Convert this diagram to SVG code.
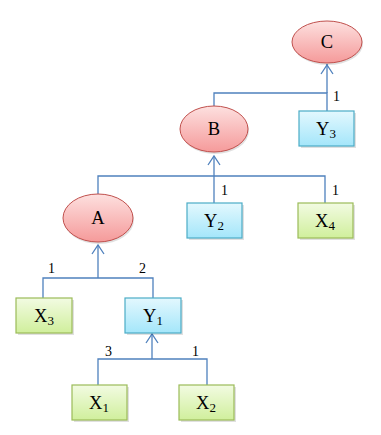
<svg xmlns="http://www.w3.org/2000/svg" width="381" height="435" viewBox="0 0 381 435">
<style>
.e{fill:url(#gr);stroke:#c0504d;stroke-width:1}
.b{fill:url(#gb);stroke:#4bacc6;stroke-width:1.2}
.g{fill:url(#gg);stroke:#9bbb59;stroke-width:1.2}
.sh{fill:#000;opacity:0.12}
text{font-family:"Liberation Serif","Times New Roman",serif;font-size:18.5px;fill:#000}
.m{text-anchor:middle}
.l{font-size:14px}
.s{font-size:13px}
.c{fill:none;stroke:#4f81bd;stroke-width:1.3}
</style>
<defs>
<linearGradient id="gr" x1="0" y1="0" x2="0" y2="1"><stop offset="0" stop-color="#fde0df"/><stop offset="1" stop-color="#f59a9a"/></linearGradient>
<linearGradient id="gb" x1="0" y1="0" x2="0" y2="1"><stop offset="0" stop-color="#e3f8fe"/><stop offset="1" stop-color="#a4e6fa"/></linearGradient>
<linearGradient id="gg" x1="0" y1="0" x2="0" y2="1"><stop offset="0" stop-color="#f2fbe2"/><stop offset="1" stop-color="#d0ef9c"/></linearGradient>
</defs>
<g id="connectors">
<polyline class="c" points="327,111 327,93 214,93 214,106"/>
<polyline class="c" points="327,93 327,64"/>
<polyline class="c" points="321,74 327,65 333,74"/>
<polyline class="c" points="98,194 98,176 325,176 325,203"/>
<polyline class="c" points="214,203 214,156"/>
<polyline class="c" points="208,165 214,156 220,165"/>
<polyline class="c" points="43,298 43,278 153,278 153,298"/>
<polyline class="c" points="98,278 98,245"/>
<polyline class="c" points="92,254 98,245 104,254"/>
<polyline class="c" points="98,385 98,359 207,359 207,385"/>
<polyline class="c" points="152,359 152,334"/>
<polyline class="c" points="146,343 152,334 158,343"/>
<text class="l" x="333" y="101">1</text>
<text class="l" x="221" y="195">1</text>
<text class="l" x="332" y="195">1</text>
<text class="l" x="48" y="273">1</text>
<text class="l" x="139" y="273">2</text>
<text class="l" x="105" y="356">3</text>
<text class="l" x="192" y="356">1</text>
</g>
<g id="C">
<ellipse class="sh" cx="328" cy="44" rx="35" ry="21"/>
<ellipse class="e" cx="327" cy="42" rx="35" ry="21"/>
<text class="m" x="327" y="48">C</text>
</g>
<g id="B">
<ellipse class="sh" cx="215" cy="131" rx="34" ry="23"/>
<ellipse class="e" cx="214" cy="129" rx="34" ry="23"/>
<text class="m" x="214" y="135">B</text>
</g>
<g id="A">
<ellipse class="sh" cx="99" cy="220" rx="35" ry="24"/>
<ellipse class="e" cx="98" cy="218" rx="35" ry="24"/>
<text class="m" x="98" y="224">A</text>
</g>
<g id="Y3">
<rect class="sh" x="301" y="113" width="55" height="35"/>
<rect class="b" x="299" y="111" width="55" height="35"/>
<text class="m" x="326" y="135">Y<tspan class="s" dy="3">3</tspan></text>
</g>
<g id="Y2">
<rect class="sh" x="189" y="205" width="55" height="35"/>
<rect class="b" x="187" y="203" width="55" height="35"/>
<text class="m" x="214" y="227">Y<tspan class="s" dy="3">2</tspan></text>
</g>
<g id="X4">
<rect class="sh" x="300" y="205" width="55" height="35"/>
<rect class="g" x="298" y="203" width="55" height="35"/>
<text class="m" x="325" y="227">X<tspan class="s" dy="3">4</tspan></text>
</g>
<g id="X3">
<rect class="sh" x="18" y="300" width="56" height="35"/>
<rect class="g" x="16" y="298" width="56" height="35"/>
<text class="m" x="44" y="322">X<tspan class="s" dy="3">3</tspan></text>
</g>
<g id="Y1">
<rect class="sh" x="127" y="300" width="56" height="35"/>
<rect class="b" x="125" y="298" width="56" height="35"/>
<text class="m" x="153" y="322">Y<tspan class="s" dy="3">1</tspan></text>
</g>
<g id="X1">
<rect class="sh" x="74" y="387" width="55" height="35"/>
<rect class="g" x="72" y="385" width="55" height="35"/>
<text class="m" x="99" y="409">X<tspan class="s" dy="3">1</tspan></text>
</g>
<g id="X2">
<rect class="sh" x="181" y="387" width="55" height="35"/>
<rect class="g" x="179" y="385" width="55" height="35"/>
<text class="m" x="206" y="409">X<tspan class="s" dy="3">2</tspan></text>
</g>
</svg>
